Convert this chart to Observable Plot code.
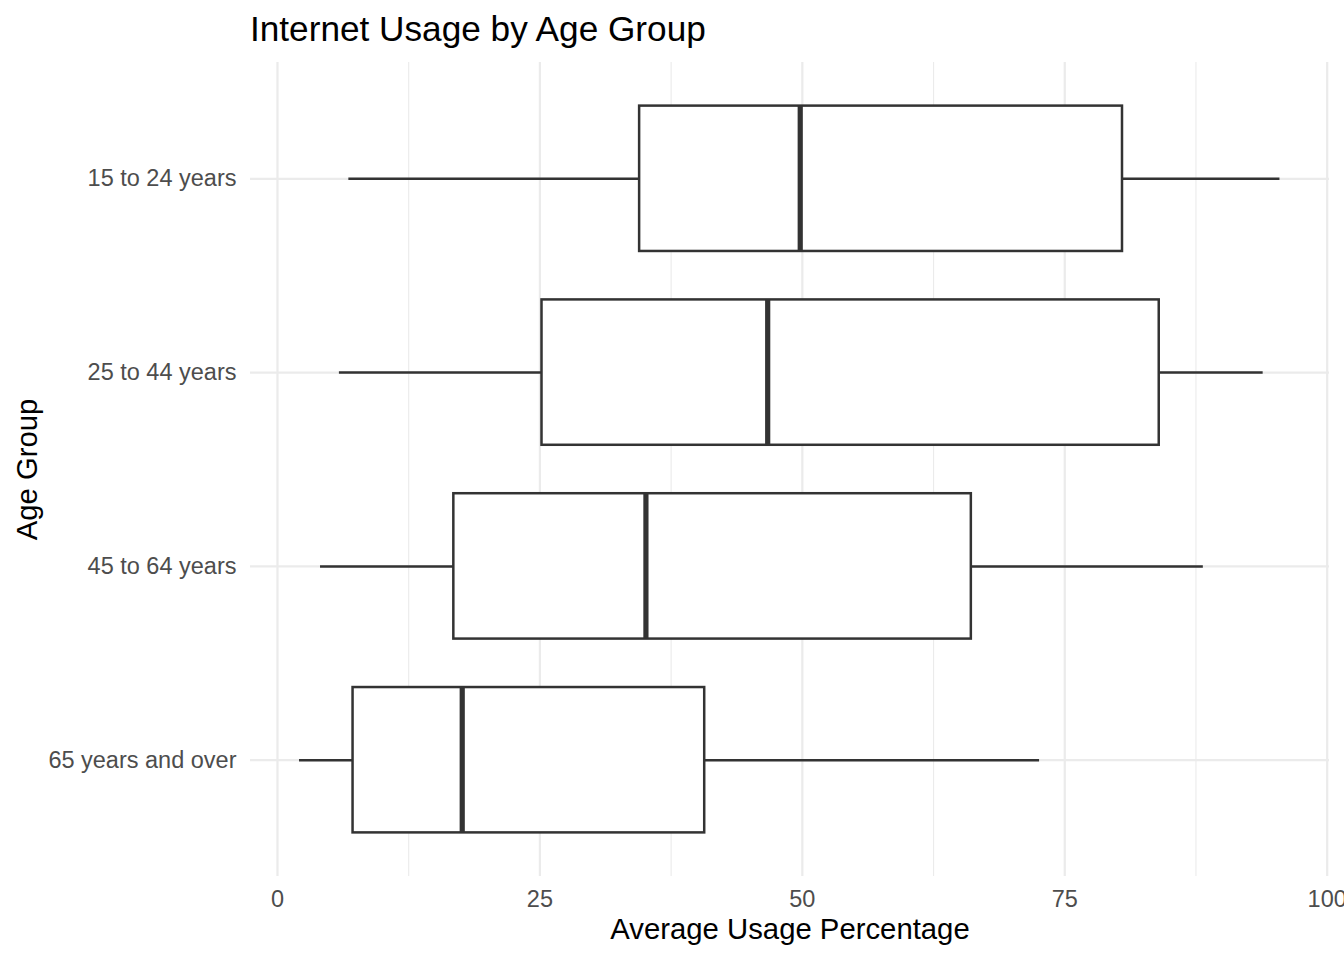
<!DOCTYPE html>
<html>
<head>
<meta charset="utf-8">
<script src="https://cdn.jsdelivr.net/npm/d3@7"></script>
<script src="https://cdn.jsdelivr.net/npm/@observablehq/plot@0.6"></script>
<style>
  html, body { margin: 0; padding: 0; background: #ffffff; }
  #wrap { position: relative; width: 1344px; height: 960px; font-family: "Liberation Sans", Arial, Helvetica, sans-serif; }
  #title { position: absolute; left: 250px; top: 11px; font-size: 35.2px; line-height: 35px; color: #000; white-space: nowrap; }
  #chart { position: absolute; left: 0; top: 0; }
</style>
</head>
<body>
<div id="wrap">
  <div id="chart"></div>
  <div id="title">Internet Usage by Age Group</div>
</div>
<script>
// Categories (top to bottom)
const ageGroups = ["15 to 24 years", "25 to 44 years", "45 to 64 years", "65 years and over"];
// Boxplot statistics per age group
const whiskerLow  = [6.8, 5.9, 4.1, 2.1];
const q1          = [34.5, 25.2, 16.8, 7.2];
const median      = [49.8, 46.7, 35.1, 17.6];
const q3          = [80.5, 84.0, 66.1, 40.7];
const whiskerHigh = [95.5, 93.9, 88.2, 72.6];
// Axis ticks
const xTicks = [0, 25, 50, 75, 100];
const xMinorTicks = [12.5, 37.5, 62.5, 87.5];
const titleText = "Internet Usage by Age Group";
const xLabel = "Average Usage Percentage";
const yLabel = "Age Group";

const rows = ageGroups.map((g, i) => ({
  group: g, lo: whiskerLow[i], q1: q1[i], med: median[i], q3: q3[i], hi: whiskerHigh[i]
}));

const ink = "#333333";
const grid = "#ebebeb";
const font = "\"Liberation Sans\", Arial, Helvetica, sans-serif";

const chart = Plot.plot({
  width: 1344,
  height: 960,
  marginLeft: 250,
  marginRight: 15,
  marginTop: 62,
  marginBottom: 84,
  style: { fontFamily: font, background: "#ffffff", overflow: "visible" },
  x: { domain: [-2.57, 100.22] },
  y: { type: "band", domain: ageGroups, paddingInner: 0.25, paddingOuter: 0.225, round: false },
  marks: [
    Plot.gridX(xMinorTicks, { stroke: grid, strokeOpacity: 1, strokeWidth: 1.1 }),
    Plot.gridX(xTicks, { stroke: grid, strokeOpacity: 1, strokeWidth: 2.2 }),
    Plot.gridY({ stroke: grid, strokeOpacity: 1, strokeWidth: 2.2 }),
    Plot.axisX(xTicks, { tickSize: 0, tickPadding: 14, fontSize: 23.5, color: "#4d4d4d", label: null }),
    Plot.axisY({ tickSize: 0, tickPadding: 14, fontSize: 23.5, color: "#4d4d4d", label: null }),
    // whiskers
    Plot.ruleY(rows, { y: "group", x1: "lo", x2: "q1", stroke: ink, strokeWidth: 2.5 }),
    Plot.ruleY(rows, { y: "group", x1: "q3", x2: "hi", stroke: ink, strokeWidth: 2.5 }),
    // boxes
    Plot.barX(rows, { y: "group", x1: "q1", x2: "q3", fill: "#ffffff", stroke: ink, strokeWidth: 2.5 }),
    // medians
    Plot.tickX(rows, { y: "group", x: "med", stroke: ink, strokeWidth: 5.2 }),
    // axis titles
    Plot.text([xLabel], { frameAnchor: "bottom", dy: 53.6, textAnchor: "middle", lineAnchor: "middle", fontSize: 29.3, fill: "#000000" }),
    Plot.text([yLabel], { frameAnchor: "left", dx: -222.4, rotate: -90, textAnchor: "middle", lineAnchor: "middle", fontSize: 29.3, fill: "#000000" })
  ]
});

document.getElementById("chart").appendChild(chart);
document.getElementById("title").textContent = titleText;
</script>
</body>
</html>
